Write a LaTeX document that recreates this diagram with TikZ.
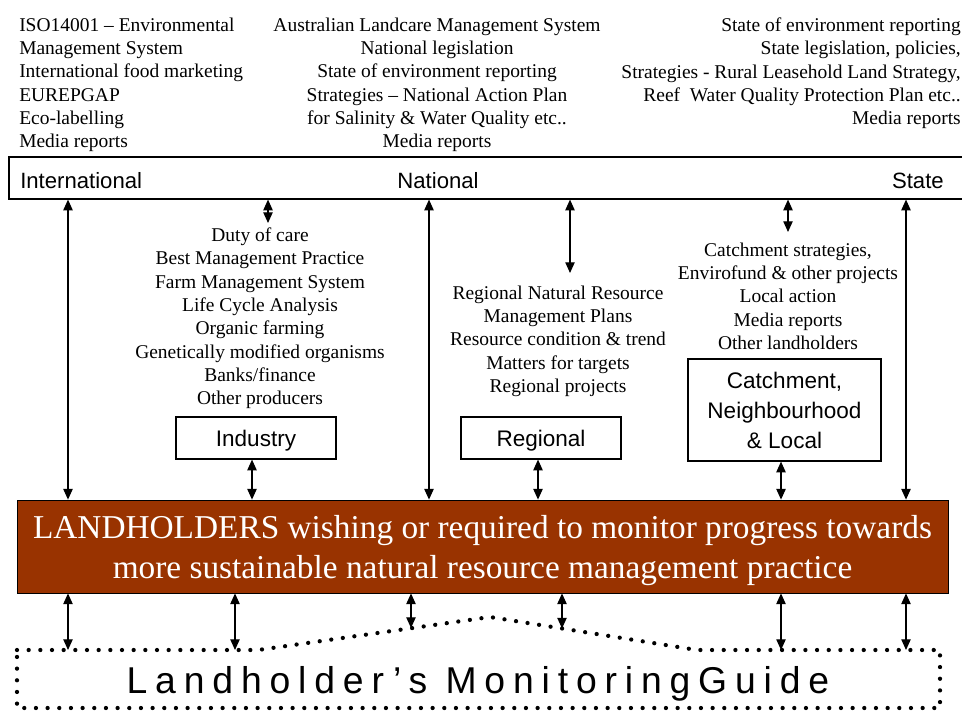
\documentclass[tikz,border=0pt]{standalone}
\usepackage{fontspec}
\setmainfont{Liberation Serif}
\setsansfont{Liberation Sans}
\newfontfamily\guidefont[LetterSpace=21]{Liberation Sans}
\usetikzlibrary{arrows.meta}
\definecolor{landbrown}{HTML}{993300}
\begin{document}
\begin{tikzpicture}[x=0.75pt,y=-0.75pt,
  every node/.style={inner sep=0pt},
  serif/.style={font=\fontsize{14.6}{17.5}\selectfont},
  levelbar/.style={font=\sffamily\fontsize{16.6}{19}\selectfont},
  levelbox/.style={draw, line width=0.9pt, font=\sffamily\fontsize{16.9}{22.5}\selectfont, align=center},
  conn/.style={{Triangle[width=7pt,length=8pt]}-{Triangle[width=7pt,length=8pt]}, line width=0.9pt},
  dotline/.style={line width=3.2pt, line cap=round, dash pattern=on 0pt off 8.75pt}
]
\useasboundingbox (0,0) rectangle (962,711);

% top texts
\node[serif, align=left, anchor=north west] (inttxt) at (19,17.5) {ISO14001 – Environmental\\Management System\\International food marketing\\EUREPGAP\\Eco-labelling\\Media reports};
\node[serif, align=center, anchor=north] (nattxt) at (437,17.5) {Australian Landcare Management System\\National legislation\\State of environment reporting\\Strategies – National Action Plan\\for Salinity \& Water Quality etc..\\Media reports};
\node[serif, align=right, anchor=north east] (statetxt) at (961,17.5) {State of environment reporting\\State legislation, policies,\\Strategies - Rural Leasehold Land Strategy,\\Reef\ \ Water Quality Protection Plan etc..\\Media reports};

% level bar
\node[draw, line width=0.9pt, minimum width=720.75pt, minimum height=31.5pt] (bar) at (489.5,178) {};
\node[levelbar, anchor=base west] (intl) at (20,188) {International};
\node[levelbar, anchor=base] (natl) at (438,188) {National};
\node[levelbar, anchor=base east] (state) at (944,188) {State};

% landholders
\node[draw=black, fill=landbrown, line width=0.6pt, minimum width=698.25pt, minimum height=69.75pt] (land) at (482.5,546.5) {};
\node[text=white, align=center, font=\fontsize{25}{30}\selectfont] (landtxt) at (482.5,550.5) {LANDHOLDERS wishing or required to monitor progress towards\\more sustainable natural resource management practice};

% middle texts
\node[serif, align=center, anchor=north] (indtxt) at (260,227.5) {Duty of care\\Best Management Practice\\Farm Management System\\Life Cycle Analysis\\Organic farming\\Genetically modified organisms\\Banks/finance\\Other producers};
\node[serif, align=center, anchor=north] (regtxt) at (558,285.5) {Regional Natural Resource\\Management Plans\\Resource condition \& trend\\Matters for targets\\Regional projects};
\node[serif, align=center, anchor=north] (cattxt) at (788,242.5) {Catchment strategies,\\Envirofund \& other projects\\Local action\\Media reports\\Other landholders};

% level boxes
\node[levelbox, text depth=0pt, minimum width=120pt, minimum height=31.5pt] (ind) at (256,438) {Industry};
\node[levelbox, text depth=0pt, minimum width=120pt, minimum height=31.5pt] (reg) at (541,438) {Regional};
\node[levelbox, minimum width=144.75pt, minimum height=76.5pt] (cat) at (784.5,410) {Catchment,\\Neighbourhood\\\& Local};

% coordinates
\coordinate (xa) at (68,0);
\coordinate (xc) at (429,0);
\coordinate (xf) at (906,0);
\coordinate (xi) at (252,0);
\coordinate (xr) at (538,0);
\coordinate (xk) at (781,0);
\coordinate (indend) at (268,223);
\coordinate (regend) at (570,273);
\coordinate (catend) at (788,232);

% connectors
\draw[conn] (bar.south -| xa) -- (land.north -| xa);
\draw[conn] (bar.south -| xc) -- (land.north -| xc);
\draw[conn] (bar.south -| xf) -- (land.north -| xf);
\draw[conn] (bar.south -| indend) -- (indend);
\draw[conn] (bar.south -| regend) -- (regend);
\draw[conn] (bar.south -| catend) -- (catend);
\draw[conn] (ind.south -| xi) -- (land.north -| xi);
\draw[conn] (reg.south -| xr) -- (land.north -| xr);
\draw[conn] (cat.south -| xk) -- (land.north -| xk);

% guide
\draw[dotline] (17,650) -- (258,650) -- (490,617) -- (697,650) -- (940,650) -- (940,708) -- (17,708) -- cycle;
\node[font=\guidefont\fontsize{28}{30}\selectfont, anchor=base] (guide) at (478,693) {Landholder’s MonitoringGuide};
\coordinate (g1) at (68,650);
\coordinate (g2) at (235,650);
\coordinate (g3) at (411,628);
\coordinate (g4) at (562,628.5);
\coordinate (g5) at (781,650);
\coordinate (g6) at (906,650);
\draw[conn] (land.south -| g1) -- (g1);
\draw[conn] (land.south -| g2) -- (g2);
\draw[conn] (land.south -| g3) -- (g3);
\draw[conn] (land.south -| g4) -- (g4);
\draw[conn] (land.south -| g5) -- (g5);
\draw[conn] (land.south -| g6) -- (g6);
\end{tikzpicture}
\end{document}
